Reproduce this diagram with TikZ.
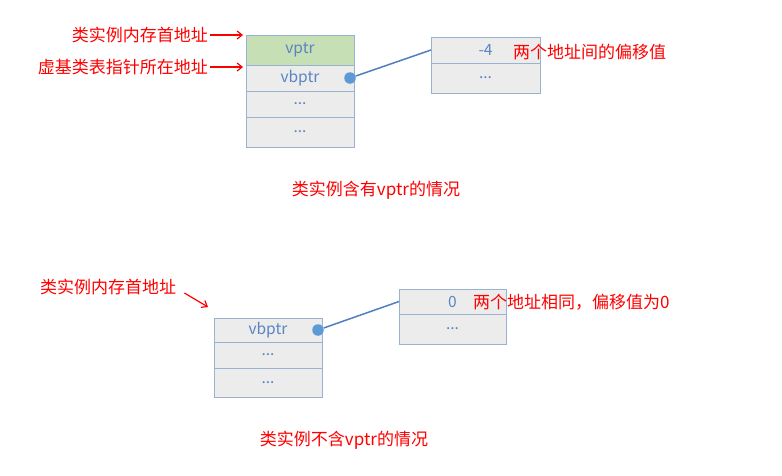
\documentclass[tikz,border=0pt]{standalone}
\usepackage{fontspec}
\setmainfont{Noto Sans CJK SC}
\usetikzlibrary{arrows.meta, positioning}
\definecolor{cellline}{HTML}{9AB2D2}
\definecolor{cellgray}{HTML}{ECECEC}
\definecolor{cellgreen}{HTML}{C6DFB4}
\definecolor{celltext}{HTML}{5A85C2}
\definecolor{linkblue}{HTML}{4F7FBC}
\definecolor{dotblue}{HTML}{5B9BD5}

\tikzset{
    cell/.style={draw=cellline, fill=cellgray, line width=1pt, minimum width=108pt,
        inner sep=0pt, outer sep=0pt, text=celltext, font=\fontsize{15.5}{16}\selectfont},
    note/.style={text=red, inner sep=0pt, font=\fontsize{17}{18}\selectfont},
    labarrow/.style={-{Straight Barb[length=5pt, width=8pt]}, red, line width=1.2pt},
    link/.style={linkblue, line width=1.5pt},
    ptrdot/.style={circle, fill=dotblue, minimum size=11.5pt, inner sep=0pt}
}

\begin{document}
\begin{tikzpicture}[x=1pt, y=-1pt]
    \useasboundingbox (0,0) rectangle (782,475);

    % class with vptr
    \node[cell, fill=cellgreen, minimum height=30pt, anchor=north west] (vp) at (246,35) {vptr};
    \node[cell, minimum height=26pt, below=0pt of vp] (vbp) {vbptr};
    \node[cell, minimum height=26pt, below=0pt of vbp] (vpa) {...};
    \node[cell, minimum height=30pt, below=0pt of vpa] (vpb) {...};
    \node[ptrdot] (dot1) at ([xshift=-4pt]vbp.east) {};

    \node[cell, minimum width=109pt, minimum height=26pt, anchor=north west] (off1) at (431,37) {-4};
    \node[cell, minimum width=109pt, minimum height=30pt, below=0pt of off1] (off1b) {...};
    \draw[link] (dot1) -- (off1.west);

    \node[note, anchor=east] (lbl1) at (208,35) {类实例内存首地址};
    \node[note, anchor=east] (lbl2) at (208,67) {虚基类表指针所在地址};
    \draw[labarrow] ([xshift=2pt]lbl1.east) -- ([xshift=-3pt]vp.north west);
    \draw[labarrow] ([xshift=2pt]lbl2.east) -- ([xshift=-3pt, yshift=-2pt]vbp.north west);
    \node[note, anchor=west] (txt1) at (513,52) {两个地址间的偏移值};
    \node[note] (cap1) at (376,190) {类实例含有vptr的情况};

    % class without vptr
    \node[cell, minimum height=24pt, anchor=north west] (bv) at (214,318) {vbptr};
    \node[cell, minimum height=26pt, below=0pt of bv] (bva) {...};
    \node[cell, minimum height=29pt, below=0pt of bva] (bvb) {...};
    \node[ptrdot] (dot2) at ([xshift=-4pt]bv.east) {};

    \node[cell, minimum width=107pt, minimum height=25pt, anchor=north west] (off2) at (399,289) {0};
    \node[cell, minimum width=107pt, minimum height=30pt, below=0pt of off2] (off2b) {...};
    \draw[link] (dot2) -- (off2.west);

    \node[note, anchor=west] (lbl3) at (40,287) {类实例内存首地址};
    \draw[labarrow] ([xshift=8pt, yshift=-6pt]lbl3.east) -- ([xshift=-6pt, yshift=11pt]bv.north west);
    \node[note, anchor=west] (txt2) at (473,302) {两个地址相同，偏移值为0};
    \node[note] (cap2) at (344,440) {类实例不含vptr的情况};
\end{tikzpicture}
\end{document}
